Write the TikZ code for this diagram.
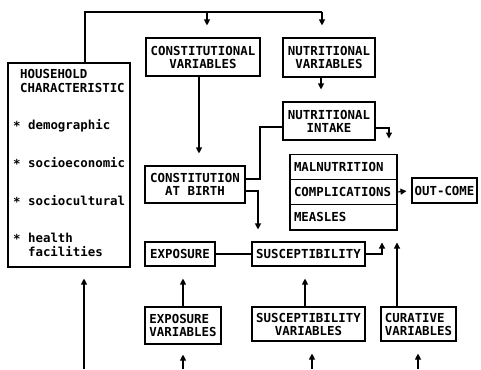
\documentclass[tikz,border=0pt]{standalone}
\usepackage{fontspec}
\newfontfamily\dmono{DejaVu Sans Mono}
\usetikzlibrary{arrows.meta}
\newcommand{\dmtext}{\dmono\bfseries\fontsize{12.4}{13}\selectfont}
\newcommand{\starmark}{\raisebox{-1.5pt}{*}}
\tikzset{
  box/.style={draw, line width=1.1pt, inner sep=0pt, font=\dmtext, align=center},
  lbl/.style={font=\dmtext, inner sep=0pt, text height=9pt, text depth=2.5pt, anchor=west},
  ln/.style={line width=1.1pt},
  arr/.style={line width=1.1pt, -{Triangle[width=6pt,length=6pt]}, shorten >=12pt},
}
\begin{document}
\begin{tikzpicture}[x=1pt,y=-1pt]
\useasboundingbox (0,0) rectangle (481,369);
% boxes
\node[box, minimum width=122pt, minimum height=204pt] (hh) at (69,165) {};
\node[lbl] (h1) at (20,75) {HOUSEHOLD};
\node[lbl] (h2) at (20,89) {CHARACTERISTIC};
\node[lbl] (h3) at (13,126) {\starmark{} demographic};
\node[lbl] (h4) at (13,164) {\starmark{} socioeconomic};
\node[lbl] (h5) at (13,202) {\starmark{} sociocultural};
\node[lbl] (h6) at (13,239) {\starmark{} health};
\node[lbl] (h7) at (27.9,253) {facilities};

\node[box, minimum width=114pt, minimum height=38pt] (cv) at (203,57) {CONSTITUTIONAL\\VARIABLES};
\node[box, minimum width=92pt, minimum height=39pt] (nv) at (329,57.5) {NUTRITIONAL\\VARIABLES};
\node[box, minimum width=92pt, minimum height=38pt] (ni) at (329,121) {NUTRITIONAL\\INTAKE};
\node[box, minimum width=100pt, minimum height=37pt] (cab) at (195,184.5) {CONSTITUTION\\AT BIRTH};

\node[box, minimum height=25.3pt, text width=99pt, inner xsep=4pt, align=left] (m1) at (343.5,166.7) {MALNUTRITION};
\node[box, minimum height=25.3pt, text width=99pt, inner xsep=4pt, align=left] (m2) at (343.5,192) {COMPLICATIONS};
\node[box, minimum height=25.3pt, text width=99pt, inner xsep=4pt, align=left] (m3) at (343.5,217.3) {MEASLES};
\node[box, minimum width=65pt, minimum height=25pt] (out) at (444.5,190.5) {OUT-COME};

\node[box, minimum width=70pt, minimum height=24pt] (exp) at (180,254) {EXPOSURE};
\node[box, minimum width=113pt, minimum height=24pt] (sus) at (308.5,254) {SUSCEPTIBILITY};

\node[box, minimum width=76pt, minimum height=37pt, align=left] (ev) at (183,325.5) {EXPOSURE\\VARIABLES};
\node[box, minimum width=113pt, minimum height=34pt] (sv) at (308.5,324) {SUSCEPTIBILITY\\VARIABLES};
\node[box, minimum width=75pt, minimum height=34pt, align=left] (crv) at (418.5,324) {CURATIVE\\VARIABLES};

% coordinates
\coordinate (tl) at (85,12);
\coordinate (tm) at (207,12);
\coordinate (tr) at (322,12);
\coordinate (k1) at (389,128);
\coordinate (k2) at (260,127);
\coordinate (k3) at (260,179);
\coordinate (k4) at (258,191);
\coordinate (k5) at (382,254);
\coordinate (k6) at (397,300);
\coordinate (b1) at (84,369);
\coordinate (b2) at (183,369);
\coordinate (b3) at (312,369);
\coordinate (b4) at (418,369);

% connectors
\draw[ln] (hh.north -| tl) -- (tl) -- (tr);
\draw[arr] (tr) -- (tr |- nv.north);
\draw[arr] (tm) -- (tm |- cv.north);
\draw[arr] ([xshift=-4pt]cv.south) -- ([xshift=-4pt]cv.south |- cab.north);
\draw[arr] ([xshift=-8pt]nv.south) -- ([xshift=-8pt]nv.south |- ni.north);
\draw[arr, shorten >=15pt] (ni.east |- k1) -- (k1) -- (k1 |- m1.north);
\draw[ln] (ni.west |- k2) -- (k2) -- (k3) -- (cab.east |- k3);
\draw[arr] (cab.east |- k4) -- (k4) -- (k4 |- sus.north);
\draw[ln] (exp.east) -- (sus.west);
\draw[arr] (sus.east) -- (k5) -- (k5 |- m3.south);
\draw[arr] (crv.north -| k6) -- (m3.south -| k6);
\draw[arr, shorten >=5pt] (m2.east) -- (out.west);
\draw[arr] (ev.north) -- (ev.north |- exp.south);
\draw[arr] ([xshift=-3.5pt]sv.north) -- ([xshift=-3.5pt]sv.north |- sus.south);
\draw[arr, shorten >=11pt] (b1) -- (b1 |- hh.south);
\draw[arr, shorten >=10pt] (b2) -- (b2 |- ev.south);
\draw[arr, shorten >=12pt] (b3) -- (b3 |- sv.south);
\draw[arr, shorten >=12pt] (b4) -- (b4 |- crv.south);
\end{tikzpicture}
\end{document}
